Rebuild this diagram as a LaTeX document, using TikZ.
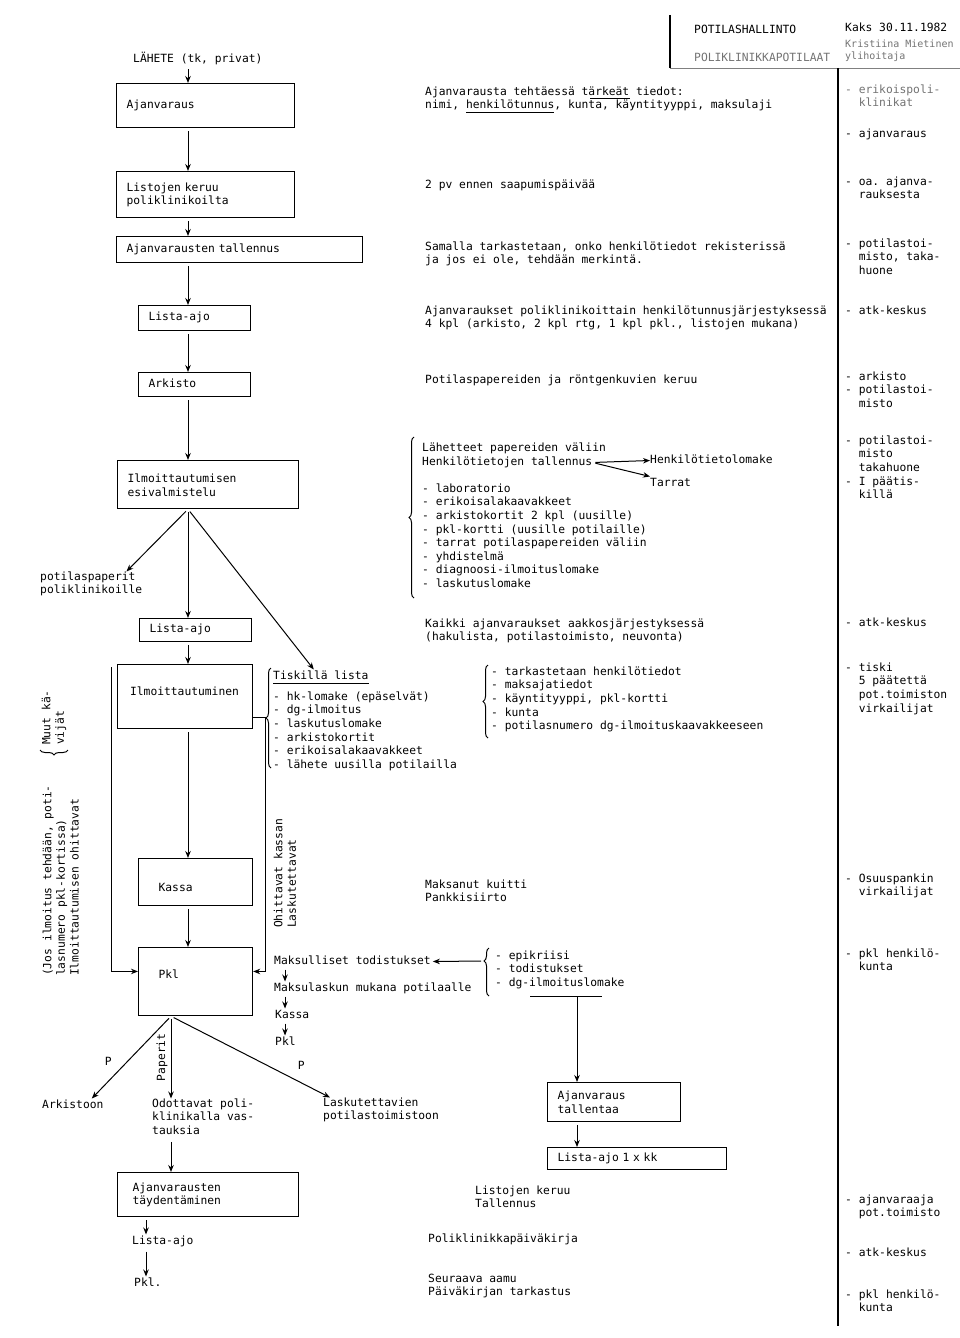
\documentclass[tikz,border=0pt]{standalone}
\usepackage{fontspec}
\setmonofont{DejaVu Sans Mono}
\usetikzlibrary{positioning}
\usetikzlibrary{arrows.meta}
\usetikzlibrary{decorations.pathreplacing}
\newcommand{\scanfont}{\ttfamily\fontsize{11.3}{13.6}\selectfont}

\begin{document}
\begin{tikzpicture}
[x = 1pt, y = -1pt,
>= {Stealth[length = 7pt, width = 5.5pt]},
every node/.style = {font = \scanfont},
box/.style = {draw, line width = 1.2pt, anchor = north west, inner xsep = 10pt, inner ysep = 2pt, align = left, execute at begin node = \strut},
txt/.style = {anchor = north west, inner sep = 0pt, align = left, yshift = 5.5pt, execute at begin node = \strut},
vtxt/.style = {rotate = 90, anchor = north west, inner sep = 0pt, align = left, execute at begin node = \strut},
faint/.style = {text = black!55},
flow/.style = {->, line width = 1pt, shorten <= 3pt},
rule/.style = {line width = 1.5pt},
curly/.style = {decorate, decoration = {brace, amplitude = 5pt}, line width = 1pt}]

\useasboundingbox (0,0) rectangle (960,1338);

\coordinate (spine) at (188,0);
\coordinate (chain) at (285,0);
\coordinate (papx) at (171,0);
\coordinate (lowx) at (146,0);

% header
\draw[rule] (670,15) -- (670,68);
\draw[black!50, line width = 0.8pt] (670,68) -- (960,68);
\draw[rule] (838,68) -- (838,1326);
\node[txt] (hallinto) at (694,29) {POTILASHALLINTO};
\node[txt, faint] (potilaat) at (694,57) {POLIKLINIKKAPOTILAAT};
\node[txt] (pvm) at (845,27) {Kaks 30.11.1982};
\node[txt, faint, font = \ttfamily\fontsize{10}{12}\selectfont] (laatija) at (845,45) {Kristiina Mietinen\\ylihoitaja};

% main chain
\node[txt] (lahete) at (133,57) {LÄHETE (tk, privat)};
\node[box, text width = 158pt, minimum height = 44pt] (ajanvaraus) at (116,83) {Ajanvaraus};
\node[box, text width = 158pt, minimum height = 46pt] (listojen) at (116,171) {Listojen keruu\\poliklinikoilta};
\node[box, text width = 226pt, minimum height = 26pt] (tallennus) at (116,236) {Ajanvarausten tallennus};
\node[box, text width = 92pt, minimum height = 25pt] (listaajo) at (138,305) {Lista-ajo};
\node[box, text width = 92pt, minimum height = 24pt] (arkisto) at (138,372) {Arkisto};
\node[box, text width = 161pt, minimum height = 48pt] (esival) at (117,460) {Ilmoittautumisen\\esivalmistelu};
\node[box, text width = 92pt, minimum height = 23pt] (listaajo2) at (139,618) {Lista-ajo};
\node[box, inner xsep = 12.5pt, text width = 110pt, minimum height = 64pt, text height = 9.5pt, text depth = 11.5pt] (ilmo) at (117,664) {Ilmoittautuminen};
\node[box, inner xsep = 20pt, text width = 74pt, minimum height = 47pt, text height = 23pt, text depth = 4pt] (kassa) at (138,858) {Kassa};
\node[box, inner xsep = 20pt, text width = 74pt, minimum height = 68pt, text height = 9.5pt, text depth = 15.5pt] (pkl) at (138,947) {Pkl};

\draw[flow] (lahete.south -| spine) -- (ajanvaraus.north -| spine);
\draw[flow] (ajanvaraus.south -| spine) -- (listojen.north -| spine);
\draw[flow] (listojen.south -| spine) -- (tallennus.north -| spine);
\draw[flow] (tallennus.south -| spine) -- (listaajo.north -| spine);
\draw[flow] (listaajo.south -| spine) -- (arkisto.north -| spine);
\draw[flow] (arkisto.south -| spine) -- (esival.north -| spine);

% esivalmistelu splits
\coordinate (esifoot) at (esival.south -| spine);
\node[txt] (potpap) at (40,577) {potilaspaperit\\poliklinikoille};
\node[txt] (tiskihead) at (273,675) {Tiskillä lista};
\draw[line width = 0.8pt] (tiskihead.south west) -- (tiskihead.south east);
\node[txt] (tiskilista) at (273,697) {- hk-lomake (epäselvät)\\- dg-ilmoitus\\- laskutuslomake\\- arkistokortit\\- erikoisalakaavakkeet\\- lähete uusilla potilailla};
\draw[curly] (271,768) -- (271,668);
\draw[flow] (esifoot) -- ([xshift = -16pt]potpap.north east);
\draw[flow] (esifoot) -- (listaajo2.north -| spine);
\draw[flow] (esifoot) -- ([xshift = -7pt]tiskihead.north);
\draw[flow] (listaajo2.south -| spine) -- (ilmo.north -| spine);
\draw[flow] (ilmo.south -| spine) -- (kassa.north -| spine);
\draw[flow] (kassa.south -| spine) -- (pkl.north -| spine);

% bypasses to pkl
\coordinate (tiskitip) at (265,717);
\draw[flow, shorten <= 0pt] ([xshift = -6pt, yshift = -3pt]ilmo.north west) |- (pkl.170);
\draw[flow, shorten <= 0pt] (ilmo.east |- tiskitip) -- (tiskitip) |- (pkl.10);
\node[vtxt] (ohittavat) at (273.5,928) {Ohittavat kassan\\Laskutettavat};
\node[vtxt] (ohitus) at (42.5,976) {(Jos ilmoitus tehdään, poti-\\lasnumero pkl-kortissa)\\Ilmoittautumisen ohittavat};
\node[vtxt] (muut) at (41.5,745) {Muut kä-\\vijät};
\draw[curly] (68,750) -- (40,750);

% after pkl
\coordinate (pklfoot) at (pkl.south -| papx);
\node[txt] (arkistoon) at (42,1104) {Arkistoon};
\node[txt] (odottavat) at (152,1104) {Odottavat poli-\\klinikalla vas-\\tauksia};
\node[txt] (laskutettavien) at (323,1103) {Laskutettavien\\potilastoimistoon};
\draw[flow] (pklfoot) -- ([xshift = 19pt]arkistoon.north) node[pos = 0.55, left = 12pt] {P};
\draw[flow] (pklfoot) -- (pklfoot |- odottavat.north) node[midway, rotate = 90, anchor = south, inner sep = 3pt] {Paperit};
\draw[flow] (pklfoot) -- ([xshift = 7pt]laskutettavien.north west) node[pos = 0.82, above = 10pt] {P};
\node[box, inner xsep = 15pt, text width = 151pt, minimum height = 44pt] (taydent) at (117,1172) {Ajanvarausten\\täydentäminen};
\node[txt] (listaajo3) at (132,1240) {Lista-ajo};
\node[txt] (pkl3) at (134,1282) {Pkl.};
\draw[flow] (odottavat.south -| papx) -- (taydent.north -| papx);
\draw[flow] (taydent.south -| lowx) -- (listaajo3.north -| lowx);
\draw[flow] (listaajo3.south -| lowx) -- (pkl3.north -| lowx);

% todistukset
\node[txt] (maksull) at (274,960) {Maksulliset todistukset};
\node[txt] (maksulasku) at (274,987) {Maksulaskun mukana potilaalle};
\node[txt] (kassa2) at (275,1014) {Kassa};
\node[txt] (pkl2) at (275,1041) {Pkl};
\draw[flow, shorten <= 1pt] (maksull.south -| chain) -- (maksulasku.north -| chain);
\draw[flow, shorten <= 1pt] (maksulasku.south -| chain) -- (kassa2.north -| chain);
\draw[flow, shorten <= 1pt] (kassa2.south -| chain) -- (pkl2.north -| chain);
\node[txt] (todist) at (495,956) {- epikriisi\\- todistukset\\- dg-ilmoituslomake};
\draw[curly, decoration = {brace, amplitude = 5pt, aspect = 0.73}] (489,996) -- (489,948);
\coordinate (epitip) at (484,961);
\draw[flow, shorten >= 2pt] (epitip) -- (maksull.east);
\draw[line width = 1pt] (530,996) -- (602,996);
\coordinate (ulmid) at (577,996);
\node[box, text width = 113pt, minimum height = 39pt] (tallentaa) at (547,1082) {Ajanvaraus\\tallentaa};
\node[box, text width = 159pt, minimum height = 22pt] (listakk) at (547,1147) {Lista-ajo 1 x kk};
\draw[flow, shorten <= 0pt] (ulmid) -- (tallentaa.north -| ulmid);
\draw[flow] (tallentaa.south -| ulmid) -- (listakk.north -| ulmid);

% middle column notes
\node[txt] (tiedot) at (425,92) {Ajanvarausta tehtäessä tärkeät tiedot:\\nimi, henkilötunnus, kunta, käyntityyppi, maksulaji};
\draw[line width = 0.8pt] (466,112) -- (554,112);
\draw[line width = 0.8pt] (590,98) -- (630,98);
\node[txt] (aikataulu) at (425,184) {2 pv ennen saapumispäivää};
\node[txt] (tarkistus) at (425,247) {Samalla tarkastetaan, onko henkilötiedot rekisterissä\\ja jos ei ole, tehdään merkintä.};
\node[txt] (jarjestys) at (425,311) {Ajanvaraukset poliklinikoittain henkilötunnusjärjestyksessä\\4 kpl (arkisto, 2 kpl rtg, 1 kpl pkl., listojen mukana)};
\node[txt] (keruu) at (425,379) {Potilaspapereiden ja röntgenkuvien keruu};
\node[txt] (lahetteet) at (422,447) {Lähetteet papereiden väliin};
\node[txt] (htall) at (422,461) {Henkilötietojen tallennus};
\node[txt] (hlomake) at (650,459) {Henkilötietolomake};
\node[txt] (tarrat) at (650,482) {Tarrat};
\draw[flow] (htall.east) -- (hlomake.west);
\draw[flow] (htall.east) -- (tarrat.north west);
\node[txt] (liitteet) at (422,489) {- laboratorio\\- erikoisalakaavakkeet\\- arkistokortit 2 kpl (uusille)\\- pkl-kortti (uusille potilaille)\\- tarrat potilaspapereiden väliin\\- yhdistelmä\\- diagnoosi-ilmoituslomake\\- laskutuslomake};
\draw[curly] (414,598) -- (414,437);
\node[txt] (aakkos) at (425,624) {Kaikki ajanvaraukset aakkosjärjestyksessä\\(hakulista, potilastoimisto, neuvonta)};
\node[txt] (tarkast) at (491,672) {- tarkastetaan henkilötiedot\\- maksajatiedot\\- käyntityyppi, pkl-kortti\\- kunta\\- potilasnumero dg-ilmoituskaavakkeeseen};
\draw[curly] (488,738) -- (488,665);
\node[txt] (kuitti) at (425,885) {Maksanut kuitti\\Pankkisiirto};
\node[txt] (keruu2) at (475,1191) {Listojen keruu\\Tallennus};
\node[txt] (paivakirja) at (428,1238) {Poliklinikkapäiväkirja};
\node[txt] (aamu) at (428,1279) {Seuraava aamu\\Päiväkirjan tarkastus};

% right column: who
\node[txt, faint] (kuka1) at (845,90) {- erikoispoli-\\\phantom{- }klinikat};
\node[txt] (kuka2) at (845,133) {- ajanvaraus};
\node[txt] (kuka3) at (845,182) {- oa. ajanva-\\\phantom{- }rauksesta};
\node[txt] (kuka4) at (845,244) {- potilastoi-\\\phantom{- }misto, taka-\\\phantom{- }huone};
\node[txt] (kuka5) at (845,310) {- atk-keskus};
\node[txt] (kuka6) at (845,377) {- arkisto\\- potilastoi-\\\phantom{- }misto};
\node[txt] (kuka7) at (845,441) {- potilastoi-\\\phantom{- }misto\\\phantom{- }takahuone\\- I päätis-\\\phantom{- }killä};
\node[txt] (kuka8) at (845,622) {- atk-keskus};
\node[txt] (kuka9) at (845,668) {- tiski\\\phantom{- }5 päätettä\\\phantom{- }pot.toimiston\\\phantom{- }virkailijat};
\node[txt] (kuka10) at (845,879) {- Osuuspankin\\\phantom{- }virkailijat};
\node[txt] (kuka11) at (845,954) {- pkl henkilö-\\\phantom{- }kunta};
\node[txt] (kuka12) at (845,1200) {- ajanvaraaja\\\phantom{- }pot.toimisto};
\node[txt] (kuka13) at (845,1252) {- atk-keskus};
\node[txt] (kuka14) at (845,1295) {- pkl henkilö-\\\phantom{- }kunta};
\end{tikzpicture}
\end{document}
